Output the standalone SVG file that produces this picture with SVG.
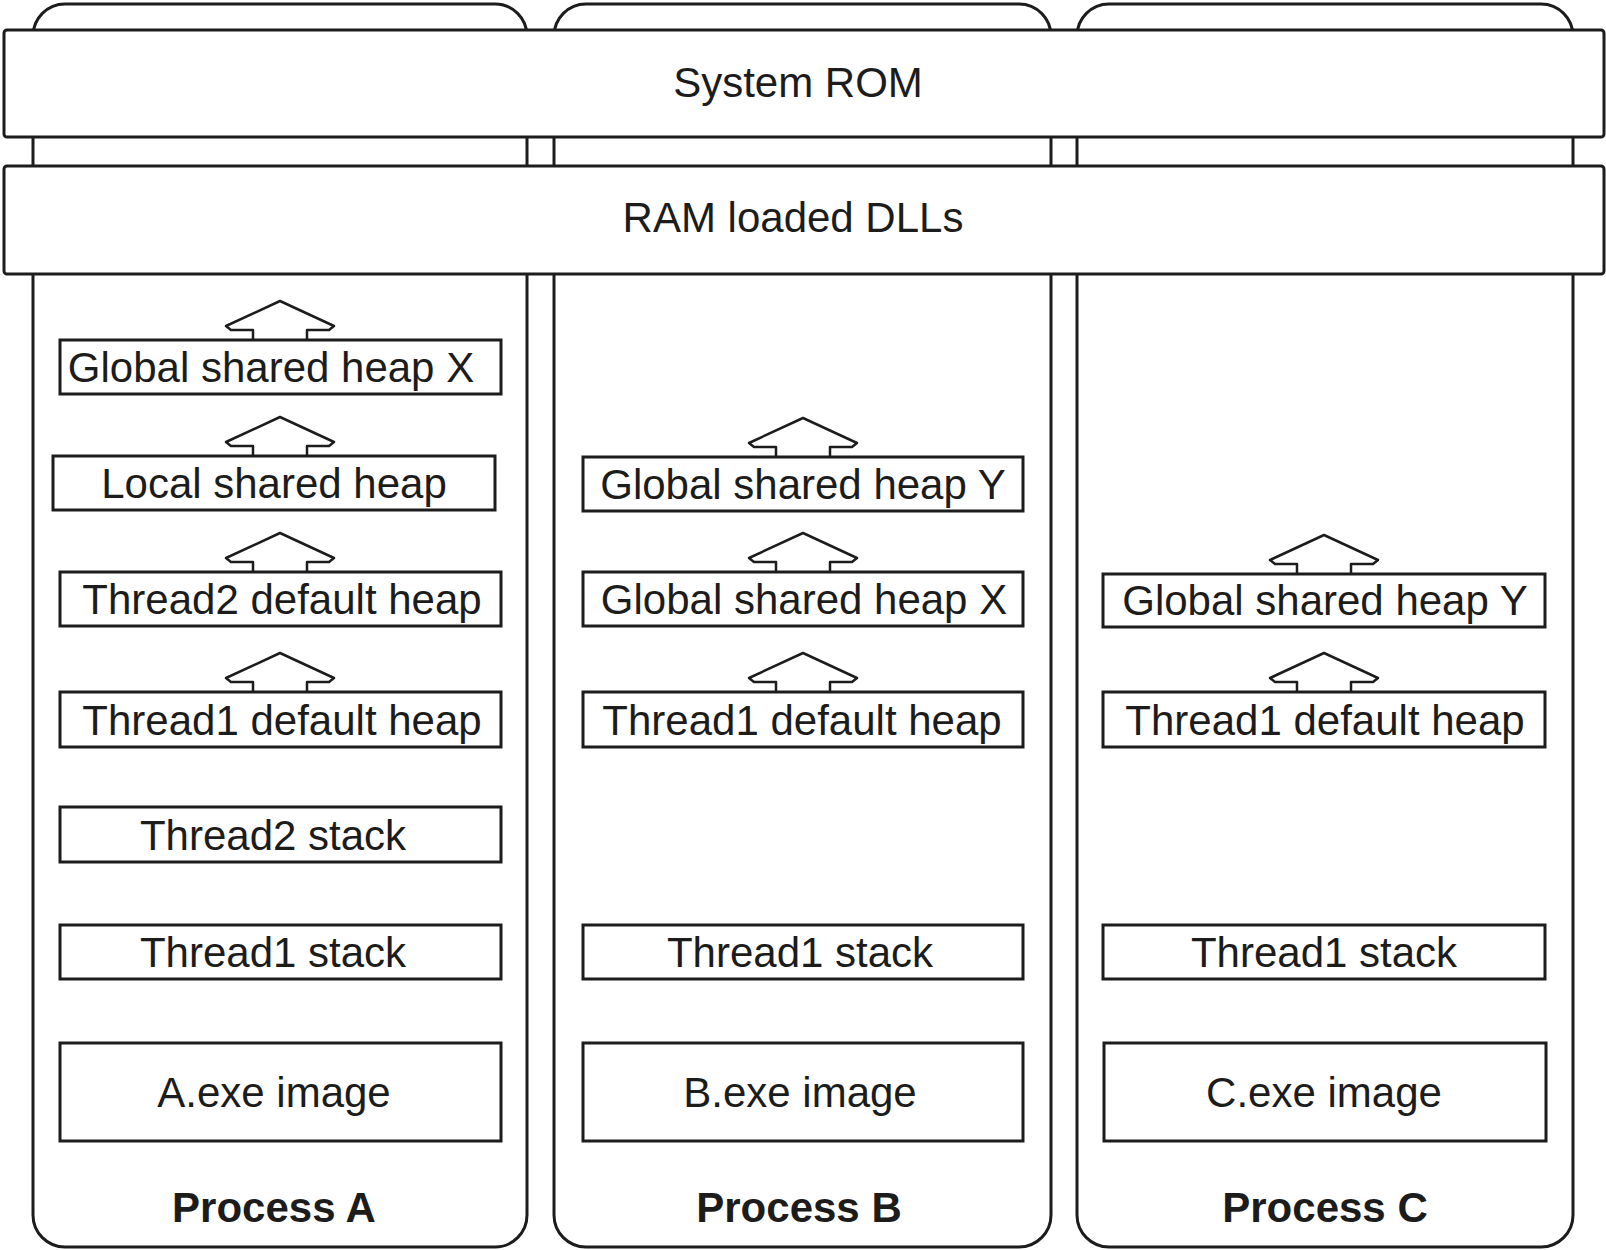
<svg xmlns="http://www.w3.org/2000/svg" width="1606" height="1250" viewBox="0 0 1606 1250">
<style>
.b{fill:#fff;stroke:#1c1c1c;stroke-width:3}
.t{font-family:"Liberation Sans",Arial,sans-serif;font-size:42px;fill:#1c1c1c;text-anchor:middle}
.p{font-weight:bold}
.ar{fill:#fff;stroke:#1c1c1c;stroke-width:2.5;stroke-linejoin:round}
</style>
<defs>
<path id="arrow" class="ar" d="M-27,0 V-10 H-49 L-54,-14 L0,-39 L54,-14 L49,-10 H27 V0"/>
</defs>
<rect width="1606" height="1250" fill="#fff"/>
<g id="processA"><rect class="b" x="33" y="4" width="494" height="1243" rx="32" ry="32"/><text class="t p" x="274" y="1222">Process A</text></g>
<g id="processB"><rect class="b" x="554" y="4" width="497" height="1243" rx="32" ry="32"/><text class="t p" x="799" y="1222">Process B</text></g>
<g id="processC"><rect class="b" x="1077" y="4" width="496" height="1243" rx="32" ry="32"/><text class="t p" x="1325" y="1222">Process C</text></g>
<g id="systemROM"><rect class="b" x="4" y="30" width="1600" height="107" rx="3"/><text class="t" x="798" y="97">System ROM</text></g>
<g id="ramDLLs"><rect class="b" x="4" y="166" width="1600" height="108" rx="3"/><text class="t" x="793" y="232">RAM loaded DLLs</text></g>
<g id="connectors">
<use href="#arrow" x="280" y="340"/>
<use href="#arrow" x="280" y="456"/>
<use href="#arrow" x="280" y="572"/>
<use href="#arrow" x="280" y="692"/>
<use href="#arrow" x="803" y="457"/>
<use href="#arrow" x="803" y="572"/>
<use href="#arrow" x="803" y="692"/>
<use href="#arrow" x="1324" y="574"/>
<use href="#arrow" x="1324" y="692"/>
</g>
<g id="A_gshX"><rect class="b" x="60" y="340" width="441" height="54"/><text class="t" x="271" y="382">Global shared heap X</text></g>
<g id="A_lsh"><rect class="b" x="53" y="456" width="442" height="54"/><text class="t" x="274" y="498">Local shared heap</text></g>
<g id="A_t2dh"><rect class="b" x="60" y="572" width="441" height="54"/><text class="t" x="282" y="614">Thread2 default heap</text></g>
<g id="A_t1dh"><rect class="b" x="60" y="692" width="441" height="55"/><text class="t" x="282" y="735">Thread1 default heap</text></g>
<g id="A_t2s"><rect class="b" x="60" y="807" width="441" height="55"/><text class="t" x="273" y="850">Thread2 stack</text></g>
<g id="A_t1s"><rect class="b" x="60" y="925" width="441" height="54"/><text class="t" x="273" y="967">Thread1 stack</text></g>
<g id="A_exe"><rect class="b" x="60" y="1043" width="441" height="98"/><text class="t" x="274" y="1107">A.exe image</text></g>
<g id="B_gshY"><rect class="b" x="583" y="457" width="440" height="54"/><text class="t" x="803" y="499">Global shared heap Y</text></g>
<g id="B_gshX"><rect class="b" x="583" y="572" width="440" height="54"/><text class="t" x="804" y="614">Global shared heap X</text></g>
<g id="B_t1dh"><rect class="b" x="583" y="692" width="440" height="55"/><text class="t" x="802" y="735">Thread1 default heap</text></g>
<g id="B_t1s"><rect class="b" x="583" y="925" width="440" height="54"/><text class="t" x="800" y="967">Thread1 stack</text></g>
<g id="B_exe"><rect class="b" x="583" y="1043" width="440" height="98"/><text class="t" x="800" y="1107">B.exe image</text></g>
<g id="C_gshY"><rect class="b" x="1103" y="574" width="442" height="53"/><text class="t" x="1325" y="615">Global shared heap Y</text></g>
<g id="C_t1dh"><rect class="b" x="1103" y="692" width="442" height="55"/><text class="t" x="1325" y="735">Thread1 default heap</text></g>
<g id="C_t1s"><rect class="b" x="1103" y="925" width="442" height="54"/><text class="t" x="1324" y="967">Thread1 stack</text></g>
<g id="C_exe"><rect class="b" x="1104" y="1043" width="442" height="98"/><text class="t" x="1324" y="1107">C.exe image</text></g>
</svg>
